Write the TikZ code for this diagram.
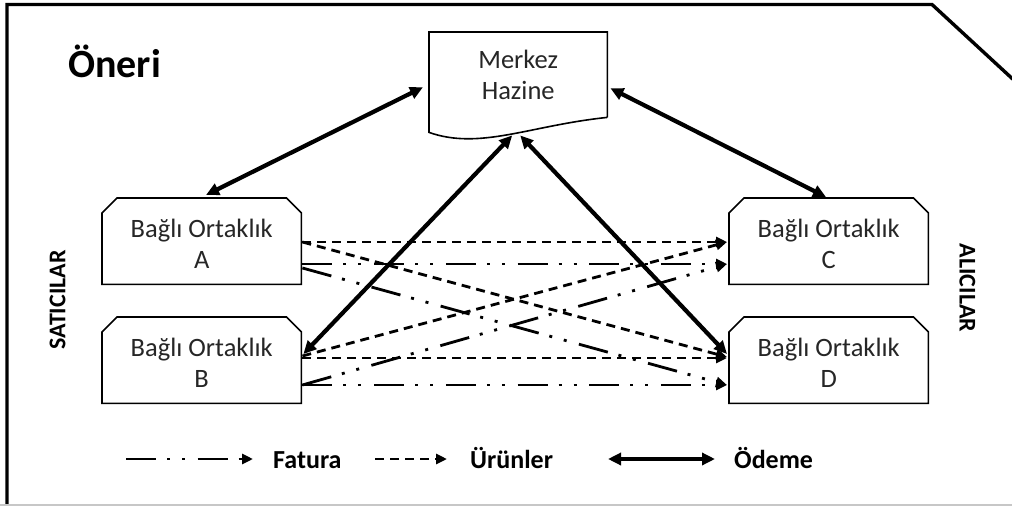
\documentclass[tikz,border=0pt]{standalone}
\usepackage{fontspec}
\setmainfont{Carlito}
\usetikzlibrary{arrows.meta}

\begin{document}
\begin{tikzpicture}[x=1pt,y=-1pt,
  boxshape/.style={rectangle,minimum width=199pt,minimum height=86pt,inner sep=0pt,anchor=north west},
  boxtext/.style={align=center,font=\fontsize{26.5}{31}\selectfont,inner sep=0pt,text=black!85},
  outline/.style={line width=1.6pt,black,line join=miter},
  pay/.style={line width=4.2pt,{Triangle[length=13pt,width=12pt]}-{Triangle[length=13pt,width=12pt]}},
  goods/.style={line width=2.8pt,dash pattern=on 9pt off 6pt,-{Triangle[length=11pt,width=10pt]}},
  bill/.style={line width=2.8pt,dash pattern=on 30pt off 11pt on 3pt off 12pt on 3pt off 12.7pt,-{Triangle[length=11pt,width=10pt]}},
  legendtext/.style={anchor=base west,inner sep=0pt,font=\bfseries\fontsize{26}{30}\selectfont},
  sidetext/.style={inner sep=0pt,font=\bfseries\fontsize{24}{28}\selectfont}
]
\clip (0,0) rectangle (1012,506);
\fill[white] (0,0) rectangle (1012,506);

% outer frame with the cut corner
\draw[line width=3.4pt,line join=miter] (7,510) -- (7,4.5) -- (932,4.5) -- (1030,95);
\draw[black!22,line width=1.5pt] (0,505) -- (1012,505);

% title
\node[anchor=base west,inner sep=0pt,font=\bfseries\fontsize{40}{48}\selectfont] (title) at (68,77) {Öneri};

% central treasury (document shape)
\node[rectangle,minimum width=178pt,minimum height=100pt,inner sep=0pt,anchor=north west] (mh) at (429,32) {};
\draw[outline] ([yshift=15pt]mh.south east) -- (mh.north east) -- (mh.north west) -- (mh.south west)
  .. controls ([shift={(51,18)}]mh.south west) and ([shift={(101,-7)}]mh.south west) .. ([yshift=15pt]mh.south east);
\node[boxtext] (mhtext) at ([yshift=-43pt]mh.north) {Merkez\\Hazine};

% subsidiaries
\node[boxshape] (bxA) at (102,198) {};
\node[boxshape] (bxB) at (102,317) {};
\node[boxshape] (bxC) at (729,198) {};
\node[boxshape] (bxD) at (729,317) {};
\foreach \b in {bxA,bxB,bxC,bxD}{
  \draw[outline] (\b.south west) -- ([yshift=-15pt]\b.north west) -- ([xshift=15pt]\b.north west)
    -- ([xshift=-15pt]\b.north east) -- ([yshift=-15pt]\b.north east) -- (\b.south east) -- cycle;
}
\node[boxtext] (tA) at ([yshift=-45.5pt]bxA.north) {Bağlı Ortaklık\\A};
\node[boxtext] (tB) at ([yshift=-45.5pt]bxB.north) {Bağlı Ortaklık\\B};
\node[boxtext] (tC) at ([yshift=-45.5pt]bxC.north) {Bağlı Ortaklık\\C};
\node[boxtext] (tD) at ([yshift=-45.5pt]bxD.north) {Bağlı Ortaklık\\D};

% side labels
\node[sidetext,rotate=90] (sellers) at (57.5,300) {SATICILAR};
\node[sidetext,rotate=-90] (buyers) at (967.5,288) {ALICILAR};

% products
\draw[goods] ([shift={(1,44)}]bxA.north east) -- ([shift={(-2,44)}]bxC.north west);
\draw[goods] ([shift={(1,44)}]bxA.north east) -- ([shift={(-2,40)}]bxD.north west);
\draw[goods] ([shift={(1,39)}]bxB.north east) -- ([shift={(-2,44)}]bxC.north west);
\draw[goods] ([shift={(1,41)}]bxB.north east) -- ([shift={(-2,41)}]bxD.north west);

% invoices
\draw[bill] ([shift={(1,66)}]bxA.north east) -- ([shift={(-2,66)}]bxC.north west);
\draw[bill] ([shift={(1,70)}]bxA.north east) -- ([shift={(-2,68)}]bxD.north west);
\draw[bill] ([shift={(1,68)}]bxB.north east) -- ([shift={(-2,66)}]bxC.north west);
\draw[bill] ([shift={(1,68)}]bxB.north east) -- ([shift={(-2,68)}]bxD.north west);

% payments
\draw[pay] ([shift={(-6,5)}]mh.west) -- ([shift={(104,-3)}]bxA.north west);
\draw[pay] ([shift={(3,6)}]mh.east) -- ([shift={(97,-1)}]bxC.north west);
\draw[pay] ([shift={(-6,3)}]mh.south) -- ([shift={(2,37)}]bxB.north east);
\draw[pay] ([shift={(2,3)}]mh.south) -- ([shift={(-2,37)}]bxD.north west);

% legend
\coordinate (lgF1) at (126,459);
\coordinate (lgF2) at (253,459);
\coordinate (lgU1) at (375,459);
\coordinate (lgU2) at (447,459);
\coordinate (lgO1) at (608,459);
\coordinate (lgO2) at (715,459);
\node[legendtext] (lgF) at (273,468) {Fatura};
\node[legendtext] (lgU) at (470,468) {Ürünler};
\node[legendtext] (lgO) at (734,468) {Ödeme};
\draw[bill] (lgF1) -- (lgF2);
\draw[goods] (lgU1) -- (lgU2);
\draw[pay] (lgO1) -- (lgO2);
\end{tikzpicture}
\end{document}
